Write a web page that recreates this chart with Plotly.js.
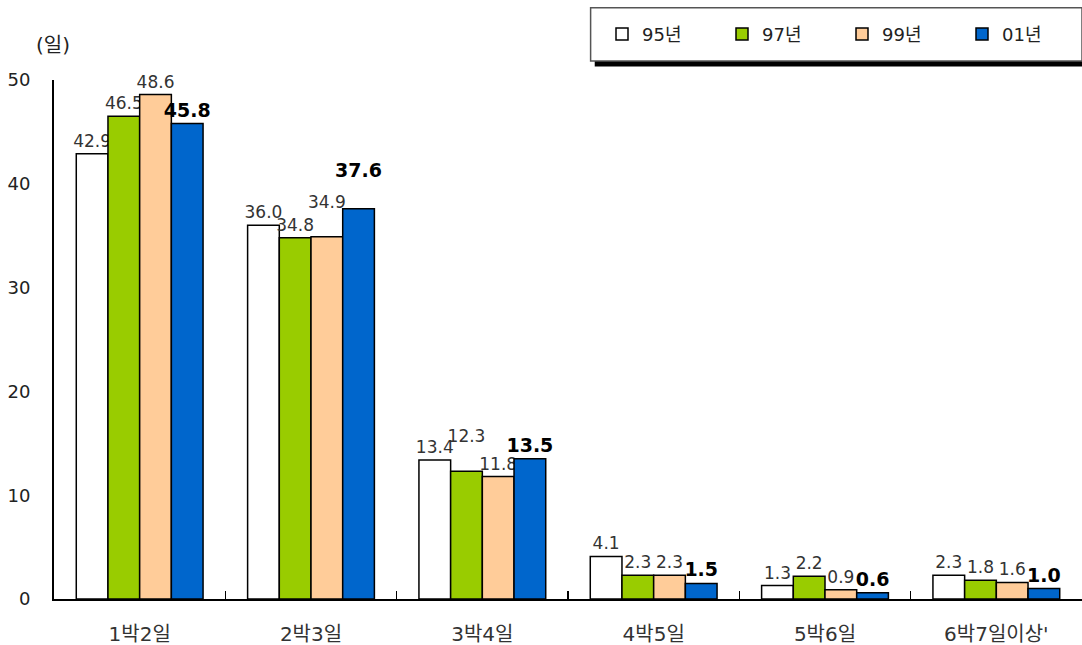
<!DOCTYPE html>
<html>
<head>
<meta charset="utf-8">
<script src="https://cdn.plot.ly/plotly-3.0.1.min.js"></script>
<style>html,body{margin:0;padding:0;background:#fff;}#chart{width:1082px;height:645px;}</style>
</head>
<body>
<div id="chart"></div>
<script>
const categories = ['1박2일', '2박3일', '3박4일', '4박5일', '5박6일', "6박7일이상'"];
const seriesNames = ['95년', '97년', '99년', '01년'];
const y95 = [42.9, 36.0, 13.4, 4.1, 1.3, 2.3];
const y97 = [46.5, 34.8, 12.3, 2.3, 2.2, 1.8];
const y99 = [48.6, 34.9, 11.8, 2.3, 0.9, 1.6];
const y01 = [45.8, 37.6, 13.5, 1.5, 0.6, 1.0];
const yTicks = [0, 10, 20, 30, 40, 50];

const colors = ['#FFFFFF', '#99CC00', '#FFCC99', '#0066CC'];
const values = [y95, y97, y99, y01];
// labels lifted one line above their bar in the reference, by series index -> category indices
const liftedLabels = [[], [2], [1], [1]];
const FONT = '"DejaVu Sans", "Noto Sans CJK KR", sans-serif';

const traces = values.map((v, i) => ({
  type: 'bar',
  name: seriesNames[i],
  x: categories,
  y: v,
  marker: {color: colors[i], line: {color: '#000', width: 1.5}},
  text: v.map((val, j) => {
    const s = i === 3 ? '<b>' + val.toFixed(1) + '</b>' : val.toFixed(1);
    return liftedLabels[i].includes(j) ? s + '<br>\u00a0' : s;
  }),
  texttemplate: '%{text}',
  textposition: 'outside',
  constraintext: 'none',
  cliponaxis: false,
  textfont: {family: FONT, size: i === 3 ? 19 : 17, color: i === 3 ? '#000' : '#333'},
  hoverinfo: 'x+y'
}));

const layout = {
  width: 1082, height: 645,
  margin: {l: 54, r: 0, t: 80, b: 46},
  paper_bgcolor: '#fff', plot_bgcolor: '#fff',
  barmode: 'group',
  bargap: 0.26, bargroupgap: 0,
  showlegend: true,
  font: {family: FONT, color: '#222'},
  xaxis: {
    type: 'category',
    showline: true, linecolor: '#000', linewidth: 2,
    ticks: 'inside', tickson: 'boundaries', ticklen: 8, tickcolor: '#000', tickwidth: 1.5,
    tickfont: {family: FONT, size: 20, color: '#333'},
    ticklabelstandoff: 16,
    showgrid: false, zeroline: false
  },
  yaxis: {
    range: [0, 50],
    tickvals: yTicks,
    showline: true, linecolor: '#000', linewidth: 2,
    ticks: '',
    ticklabelstandoff: 18,
    tickfont: {family: FONT, size: 18, color: '#222'},
    showgrid: false, zeroline: false
  },
  legend: {
    orientation: 'h',
    x: 1, xanchor: 'right',
    y: 1.088, yanchor: 'middle',
    bgcolor: 'rgba(0,0,0,0)', borderwidth: 0,
    font: {family: FONT, size: 18, color: '#222'},
    entrywidth: 75, entrywidthmode: 'pixels',
    itemwidth: 30,
    traceorder: 'normal'
  },
  shapes: [
    {type: 'rect', xref: 'paper', yref: 'paper', x0: 0.526, x1: 1.01, y0: 1.026, y1: 1.128,
     fillcolor: '#000', line: {width: 0}, layer: 'above'},
    {type: 'rect', xref: 'paper', yref: 'paper', x0: 0.522, x1: 1.0, y0: 1.0366, y1: 1.139,
     fillcolor: '#fff', line: {color: '#555', width: 1.5}, layer: 'above'}
  ],
  annotations: [
    {text: '(일)', xref: 'paper', yref: 'paper', x: -0.019, y: 1.067, xanchor: 'left', yanchor: 'middle',
     showarrow: false, font: {family: FONT, size: 20, color: '#222'}}
  ]
};

Plotly.newPlot('chart', traces, layout, {displayModeBar: false, staticPlot: true});
</script>
</body>
</html>
